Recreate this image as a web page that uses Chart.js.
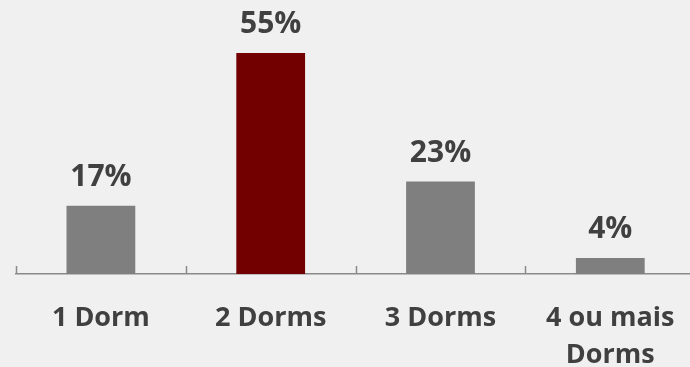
<!DOCTYPE html>
<html>
<head>
<meta charset="utf-8">
<script src="https://cdn.jsdelivr.net/npm/chart.js@4/dist/chart.umd.min.js"></script>
<style>
  html, body { margin: 0; padding: 0; background: #f0f0f0; overflow: hidden; }
  #wrap { width: 700px; height: 367px; }
</style>
</head>
<body>
<div id="wrap"><canvas id="c" width="700" height="367"></canvas></div>
<script>
// Distribution by number of bedrooms (%)
const categories = ['1 Dorm', '2 Dorms', '3 Dorms', ['4 ou mais', 'Dorms']];
const shares = [17, 55, 23, 4];
const barColors = ['#7f7f7f', '#720000', '#7f7f7f', '#7f7f7f'];

const TEXT_COLOR = '#404040';
const FONT_FAMILY = '"Open Sans", "DejaVu Sans", sans-serif';

// Percent labels above each bar
const valueLabels = {
  id: 'valueLabels',
  afterDatasetsDraw(chart) {
    const ctx = chart.ctx;
    const meta = chart.getDatasetMeta(0);
    ctx.save();
    ctx.fillStyle = TEXT_COLOR;
    ctx.font = 'bold 30px ' + FONT_FAMILY;
    ctx.textAlign = 'center';
    ctx.textBaseline = 'alphabetic';
    meta.data.forEach((bar, i) => {
      ctx.fillText(shares[i] + '%', bar.x, bar.y - 20);
    });
    ctx.restore();
  }
};

// Short upward tick marks at category boundaries on the x axis
const boundaryTicks = {
  id: 'boundaryTicks',
  afterDraw(chart) {
    const ctx = chart.ctx;
    const xs = chart.scales.x;
    const bottom = chart.chartArea.bottom;
    const step = xs.width / categories.length;
    ctx.save();
    ctx.strokeStyle = '#8a8a8a';
    ctx.lineWidth = 1.5;
    for (let i = 0; i <= categories.length; i++) {
      const x = i < categories.length
        ? xs.getPixelForValue(i) - step / 2
        : xs.getPixelForValue(i - 1) + step / 2;
      ctx.beginPath();
      ctx.moveTo(Math.round(x) + 0.5, bottom);
      ctx.lineTo(Math.round(x) + 0.5, bottom - 8);
      ctx.stroke();
    }
    ctx.restore();
  }
};

new Chart(document.getElementById('c'), {
  type: 'bar',
  data: {
    labels: categories,
    datasets: [{
      data: shares,
      backgroundColor: barColors,
      borderWidth: 0,
      categoryPercentage: 1.0,
      barPercentage: 0.405
    }]
  },
  options: {
    responsive: false,
    animation: false,
    layout: { padding: { left: 16, right: 4, top: 33, bottom: 0 } },
    plugins: { legend: { display: false }, tooltip: { enabled: false } },
    scales: {
      x: {
        offset: true,
        grid: { display: false, drawTicks: false },
        border: { display: true, color: '#8a8a8a', width: 1.5 },
        ticks: {
          color: TEXT_COLOR,
          font: { family: FONT_FAMILY, size: 27, weight: 'bold', lineHeight: 1.4 },
          padding: 25,
          maxRotation: 0,
          autoSkip: false
        },
        afterFit(scale) { scale.height = 93; }
      },
      y: {
        display: false,
        min: 0,
        max: 60
      }
    }
  },
  plugins: [valueLabels, boundaryTicks]
});
</script>
</body>
</html>
